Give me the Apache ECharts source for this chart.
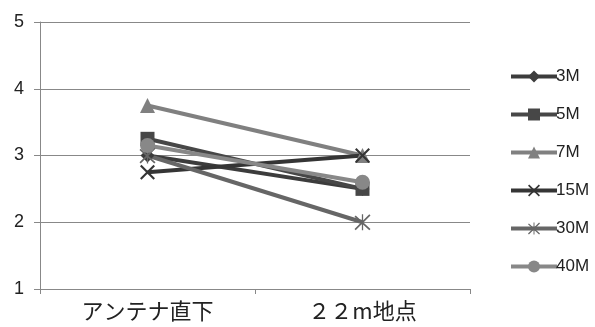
<!DOCTYPE html>
<html>
<head>
<meta charset="utf-8">
<script src="https://cdn.jsdelivr.net/npm/echarts@6/dist/echarts.min.js"></script>
<style>
  html, body { margin: 0; padding: 0; background: #fff; }
  #chart { width: 595px; height: 327px; }
</style>
</head>
<body>
<div id="chart"></div>
<script>
var categories = ["アンテナ直下", "２２m地点"];
var seriesNames = ["3M", "5M", "7M", "15M", "30M", "40M"];
var v3M = [3.0, 2.5];
var v5M = [3.25, 2.5];
var v7M = [3.75, 3.0];
var v15M = [2.75, 3.0];
var v30M = [3.0, 2.0];
var v40M = [3.15, 2.6];
var yTicks = [1, 2, 3, 4, 5];

// marker shapes
var xPath = "path://M0,2 L2,0 L10,8 L18,0 L20,2 L12,10 L20,18 L18,20 L10,12 L2,20 L0,18 L8,10 Z";
var starPath = "path://M0,3 L1.5,1.5 L20,18.5 L18.5,20 Z M18.5,0 L20,1.5 L1.5,20 L0,18.5 Z M9.2,0 L10.8,0 L10.8,20 L9.2,20 Z";

function mk(name, data, color, symbol, size) {
  return {
    name: name,
    type: "line",
    data: data,
    symbol: symbol,
    symbolSize: size,
    lineStyle: { color: color, width: 4 },
    itemStyle: { color: color },
    emphasis: { disabled: true },
    z: 2
  };
}

var chart = echarts.init(document.getElementById("chart"));
chart.setOption({
  animation: false,
  grid: { left: 40, right: 125, top: 22, bottom: 38 },
  legend: {
    orient: "vertical",
    left: 504,
    top: 63,
    itemGap: 21,
    itemWidth: 46,
    itemHeight: 15,
    lineStyle: { width: 4 },
    textStyle: { color: "#222", fontSize: 17, fontFamily: "Liberation Sans Narrow, Liberation Sans", padding: [0, 0, 0, -6] },
    data: seriesNames
  },
  xAxis: {
    type: "category",
    data: categories,
    boundaryGap: true,
    axisLine: { lineStyle: { color: "#888", width: 1 } },
    axisTick: { show: true, length: 5, lineStyle: { color: "#888" } },
    axisLabel: { color: "#222", fontSize: 22, margin: 11, fontFamily: "Noto Sans CJK JP" }
  },
  yAxis: {
    type: "value",
    min: 1,
    max: 5,
    interval: 1,
    axisLine: { show: true, lineStyle: { color: "#888", width: 1 } },
    axisTick: { show: true, length: 6, lineStyle: { color: "#888" } },
    splitLine: { lineStyle: { color: "#888", width: 1 } },
    axisLabel: { color: "#222", fontSize: 18, margin: 16, fontFamily: "Liberation Sans" }
  },
  series: [
    mk(seriesNames[0], v3M, "#3c3c3c", "diamond", 14),
    mk(seriesNames[1], v5M, "#474747", "rect", 14),
    mk(seriesNames[2], v7M, "#808080", "triangle", 15),
    mk(seriesNames[3], v15M, "#353535", xPath, 15),
    mk(seriesNames[4], v30M, "#666666", starPath, 16),
    mk(seriesNames[5], v40M, "#888888", "circle", 15)
  ]
});
</script>
</body>
</html>
